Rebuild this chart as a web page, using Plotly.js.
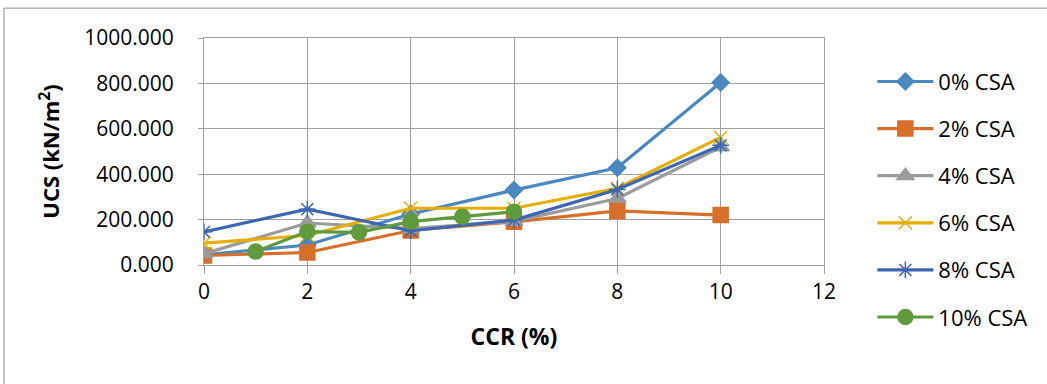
<!DOCTYPE html>
<html>
<head>
<meta charset="utf-8">
<script src="https://cdn.plot.ly/plotly-3.0.1.min.js"></script>
<style>html,body{margin:0;padding:0;background:#fff;}#chart{width:1047px;height:384px;}</style>
</head>
<body>
<div id="chart"></div>
<script>
const ccr = [0, 2, 4, 6, 8, 10];
const ccr10 = [1, 2, 3, 4, 5, 6];
const csa0 = [45, 88, 225, 330, 428, 804];
const csa2 = [42, 55, 152, 190, 238, 220];
const csa4 = [50, 185, 160, 192, 293, 520];
const csa6 = [96, 130, 250, 250, 338, 562];
const csa8 = [146, 246, 151, 198, 333, 527];
const csa10 = [59, 147, 144, 191, 213, 235];
const seriesNames = ["0% CSA", "2% CSA", "4% CSA", "6% CSA", "8% CSA", "10% CSA"];
const yTicks = [0, 200, 400, 600, 800, 1000];
const yTickText = ["0.000", "200.000", "400.000", "600.000", "800.000", "1000.000"];
const xTicks = [0, 2, 4, 6, 8, 10, 12];

const colors = ["#4a89c0", "#d66f2a", "#9b9b9b", "#e5ae00", "#3d66b3", "#5f9a3d"];
const symbols = ["diamond", "square", "triangle-up", "x-thin-open", "asterisk-open", "circle"];
const sizes = [13, 15, 15, 13, 14, 15];
const xs = [ccr, ccr, ccr, ccr, ccr, ccr10];
const ys = [csa0, csa2, csa4, csa6, csa8, csa10];

const traces = ys.map((y, i) => ({
  x: xs[i], y: y, name: seriesNames[i], type: "scatter", mode: "lines+markers",
  legendgroup: "g" + i,
  line: {color: colors[i], width: 3.2},
  marker: {symbol: symbols[i], size: sizes[i], color: colors[i], line: {color: colors[i], width: 1.5}}
}));

const font = "Open Sans, Noto Sans, sans-serif";
const layout = {
  width: 1047, height: 384,
  margin: {l: 204, r: 223, t: 38, b: 119},
  paper_bgcolor: "#fff", plot_bgcolor: "#fff",
  font: {family: font, size: 21, color: "#000"},
  showlegend: true,
  legend: {x: 1.078, y: 0.90, xanchor: "left", yanchor: "top", tracegroupgap: 15.5, maxheight: 1000,
           font: {family: font, size: 22, color: "#000"}, itemwidth: 56, bgcolor: "rgba(0,0,0,0)"},
  xaxis: {
    range: [0, 12], tickvals: xTicks, ticktext: xTicks.map(String),
    showgrid: true, gridcolor: "#a0a0a0", gridwidth: 1,
    showline: true, linecolor: "#a0a0a0", linewidth: 1, mirror: true,
    ticks: "outside", ticklen: 8, tickcolor: "#a0a0a0", tickwidth: 1,
    zeroline: false, tickfont: {family: font, size: 21},
    title: {text: "<b>CCR (%)</b>", font: {family: font, size: 23}, standoff: 24}
  },
  yaxis: {
    range: [0, 1000], tickvals: yTicks, ticktext: yTickText,
    showgrid: true, gridcolor: "#a0a0a0", gridwidth: 1,
    showline: true, linecolor: "#a0a0a0", linewidth: 1, mirror: true,
    ticks: "outside", ticklen: 5, tickcolor: "#a0a0a0", tickwidth: 1,
    ticklabelstandoff: 20,
    zeroline: false, tickfont: {family: font, size: 21},
    title: {text: "<b>UCS (kN/m<sup>2</sup>)</b>", font: {family: font, size: 22}, standoff: 18}
  },
  shapes: [
    {type: "line", xref: "paper", yref: "paper", x0: -0.3226, x1: 1.5, y0: 1.132, y1: 1.132,
     line: {color: "#a6a6a6", width: 1.3}},
    {type: "line", xref: "paper", yref: "paper", x0: -0.3226, x1: -0.3226, y0: 1.132, y1: -1,
     line: {color: "#a6a6a6", width: 1.3}}
  ]
};

Plotly.newPlot("chart", traces, layout, {displayModeBar: false, staticPlot: true});
</script>
</body>
</html>
